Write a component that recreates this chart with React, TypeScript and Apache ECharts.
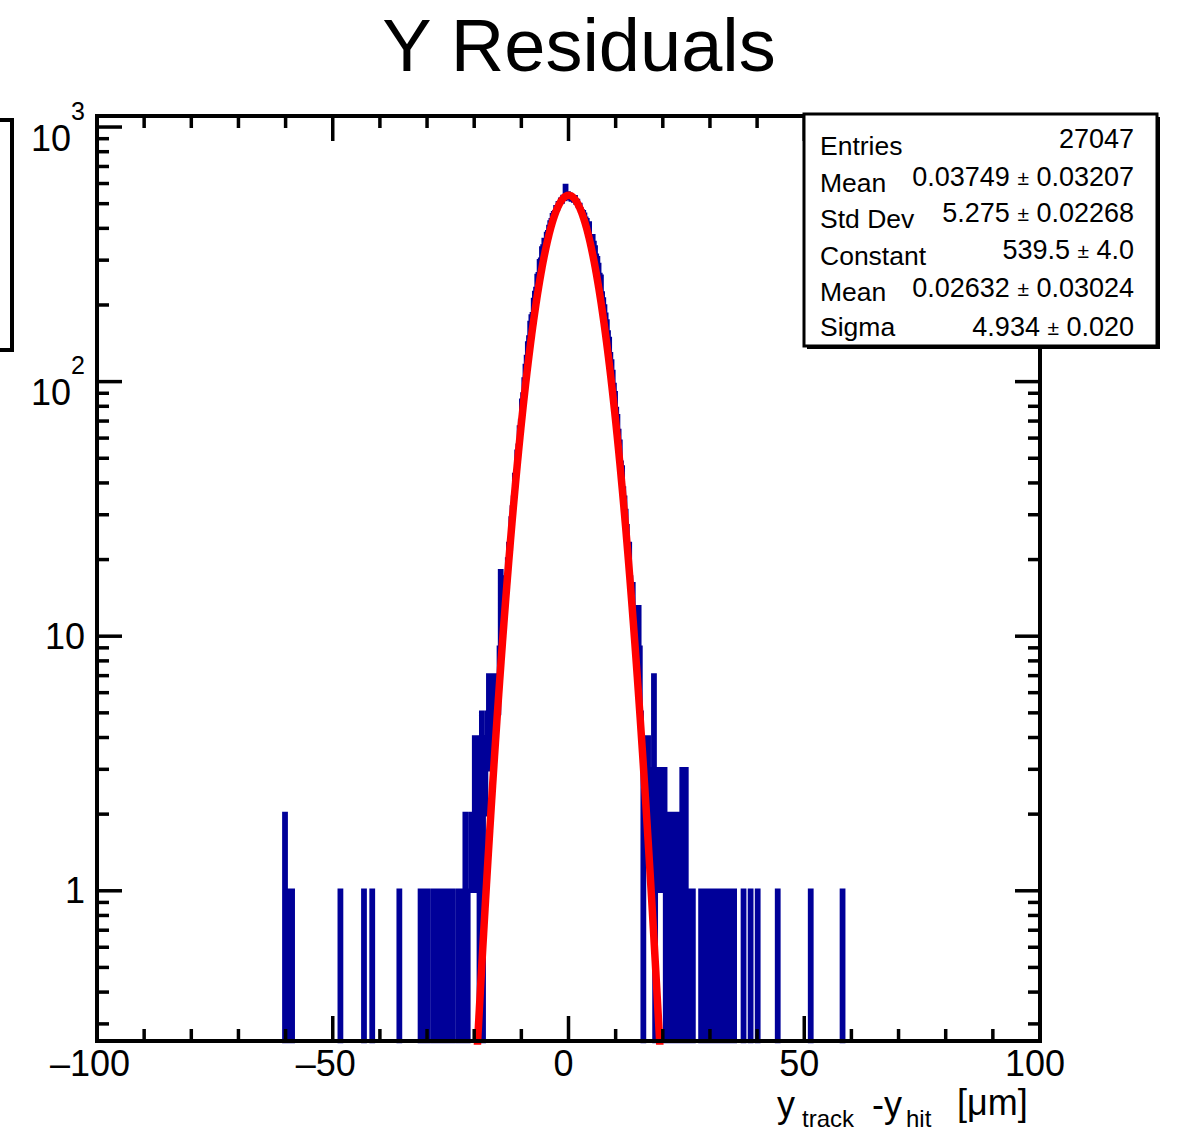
import { useEffect, useRef } from "react";
import * as echarts from "echarts";

const FONT = '"Liberation Sans", Arial, Helvetica, sans-serif';
const BLUE = "#000099";
const RED = "#ff0000";

const X_MIN = -100;
const X_MAX = 100;
const Y_MIN = 0.257;
const Y_MAX = 1105;
const BIN_WIDTH = 0.25;

// sparse outer bins (lower edge, content)
const leftTailEdges = [-60.25, -59.75, -59.25, -58.75, -48.5, -43.5, -41.75, -36.0, -31.5, -31.0, -30.5, -30.0, -28.75, -28.25, -27.75, -27.0, -26.5, -26.0, -25.5, -24.75];
const leftTailCounts = [2, 1, 1, 1, 1, 1, 1, 1, 1, 1, 1, 1, 1, 1, 1, 1, 1, 1, 1, 1];

// contiguous central bins, starting at coreStartEdge, width BIN_WIDTH
const coreStartEdge = -23.5;
const leftFlankCounts = [1, 0, 1, 0, 1, 0, 2, 0, 0, 1, 1, 2, 1, 1, 4, 2, 1, 4, 0, 3, 5, 0, 4, 2, 3, 5, 7, 3, 5, 4, 7, 4, 6, 7, 5, 9];
const leftCoreCounts = [18, 11, 14, 13, 17, 16, 20, 23, 22, 29, 32, 35, 43, 41, 53, 56, 66, 70, 84, 89, 102, 115, 125, 141, 149, 170, 180, 184, 209, 223, 231, 260, 264, 297, 301, 333, 339, 360, 362, 380, 386, 405, 422, 430, 450, 458, 462, 484, 482, 502, 503, 518, 510, 531, 528, 586, 532, 548];
const rightCoreCounts = [525, 541, 520, 528, 515, 530, 506, 512, 490, 494, 474, 466, 462, 452, 436, 430, 412, 418, 370, 358, 372, 350, 336, 312, 305, 287, 262, 258, 222, 210, 197, 183, 172, 156, 147, 128, 120, 109, 97, 90, 78, 73, 64, 58, 48, 46, 38, 35, 31, 27, 23, 23, 17, 15, 16, 11, 12, 9];
const rightFlankCounts = [8, 13, 9, 5, 4, 0, 3, 4, 2, 4, 3, 2, 3, 1, 7, 0, 3, 1, 2, 3, 1, 2, 1, 3, 0, 2, 0, 1, 2, 0, 2, 1, 0, 2, 1, 0, 2, 0, 3, 1, 0, 3, 0, 1, 0, 1, 0, 1];

const rightTailEdges = [28.0, 28.5, 29.0, 29.75, 30.25, 31.0, 31.5, 32.0, 33.0, 33.5, 34.25, 35.0, 37.0, 38.5, 40.0, 44.25, 51.25, 58.0];
const rightTailCounts = [1, 1, 1, 1, 1, 1, 1, 1, 1, 1, 1, 1, 1, 1, 1, 1, 1, 1];

// Gaussian fit parameters (from the stats box)
const FIT_CONSTANT = 539.5;
const FIT_MEAN = 0.02632;
const FIT_SIGMA = 4.934;

const xMajorTicks = [-100, -50, 0, 50, 100];
const xMinorTicks = [-90, -80, -70, -60, -40, -30, -20, -10, 10, 20, 30, 40, 60, 70, 80, 90];
const yMajorTicks = [1, 10, 100, 1000];
const yMinorTicks = [0.3, 0.4, 0.5, 0.6, 0.7, 0.8, 0.9, 2, 3, 4, 5, 6, 7, 8, 9, 20, 30, 40, 50, 60, 70, 80, 90, 200, 300, 400, 500, 600, 700, 800, 900];

const statsLabels = ["Entries", "Mean", "Std Dev", "Constant", "Mean", "Sigma"];
const statsValues = ["27047", "0.03749 ± 0.03207", "5.275 ± 0.02268", "539.5 ± 4.0", "0.02632 ± 0.03024", "4.934 ± 0.020"];

const MAJOR_LEN = 25;
const MINOR_LEN = 12;
const TICK_W = 3.5;

function buildHistogramLine() {
  const nBins = Math.round((X_MAX - X_MIN) / BIN_WIDTH);
  const counts: number[] = new Array(nBins).fill(0);
  const put = (edge: number, c: number) => {
    const i = Math.round((edge - X_MIN) / BIN_WIDTH);
    if (i >= 0 && i < nBins) counts[i] = c;
  };
  leftTailEdges.forEach((e, i) => put(e, leftTailCounts[i]));
  const core = [...leftFlankCounts, ...leftCoreCounts, ...rightCoreCounts, ...rightFlankCounts];
  core.forEach((c, i) => put(coreStartEdge + i * BIN_WIDTH, c));
  rightTailEdges.forEach((e, i) => put(e, rightTailCounts[i]));
  const pts: number[][] = [];
  counts.forEach((c, i) => {
    const e = X_MIN + i * BIN_WIDTH;
    const v = c > 0 ? c : Y_MIN * 0.2;
    pts.push([e, v], [e + BIN_WIDTH, v]);
  });
  return pts;
}

function buildFitCurve() {
  const pts: number[][] = [];
  for (let i = -220; i <= 220; i++) {
    const x = i / 10;
    const y = FIT_CONSTANT * Math.exp(-((x - FIT_MEAN) ** 2) / (2 * FIT_SIGMA * FIT_SIGMA));
    pts.push([x, y]);
  }
  return pts;
}

function richValue(s: string) {
  const parts = s.split("±");
  if (parts.length === 1) return `{v|${s}}`;
  return `{v|${parts[0]}}{pm|±}{v|${parts[1]}}`;
}

export default function App() {
  const ref = useRef<HTMLDivElement>(null);

  useEffect(() => {
    if (!ref.current) return;
    const chart = echarts.init(ref.current, undefined, { renderer: "svg" });

    const lineStyleTick = { stroke: "#000", lineWidth: TICK_W };

    const statsRowY = [146, 183, 219, 256, 292, 327];
    const statsValY = [139, 177, 213, 250, 288, 327];

    const graphic: any[] = [
      {
        type: "text",
        x: 579,
        y: 45,
        z: 100,
        style: { text: "Y Residuals", font: `74px ${FONT}`, fill: "#000", align: "center", verticalAlign: "middle", textAlign: "center", textVerticalAlign: "middle" },
      },
      {
        type: "polyline",
        z: 100,
        shape: { points: [[-4, 120], [12, 120], [12, 350], [-4, 350]] },
        style: { stroke: "#000", lineWidth: 4, fill: null },
      },
      { type: "rect", z: 100, shape: { x: 807, y: 117, width: 353, height: 232 }, style: { fill: "#000" } },
      { type: "rect", z: 101, shape: { x: 804, y: 114, width: 353, height: 232 }, style: { fill: "#fff", stroke: "#000", lineWidth: 3 } },
    ];
    statsLabels.forEach((lab, i) => {
      graphic.push({
        type: "text",
        x: 820,
        y: statsRowY[i],
        z: 102,
        style: { text: lab, font: `26.5px ${FONT}`, fill: "#000", align: "left", verticalAlign: "middle", textAlign: "left", textVerticalAlign: "middle" },
      });
      graphic.push({
        type: "text",
        x: 1134,
        y: statsValY[i],
        z: 102,
        style: {
          text: richValue(statsValues[i]),
          rich: {
            v: { fontSize: 27, fontFamily: FONT, fill: "#000", color: "#000" },
            pm: { fontSize: 21, fontFamily: FONT, fill: "#000", color: "#000" },
          },
          align: "right",
          verticalAlign: "middle",
          textAlign: "right",
          textVerticalAlign: "middle",
        },
      });
    });
    const axisTitle = [
      { t: "y", x: 777, y: 1104, s: 36 },
      { t: "track", x: 802, y: 1118, s: 24 },
      { t: "-y", x: 872, y: 1104, s: 36 },
      { t: "hit", x: 906, y: 1118, s: 24 },
      { t: "[μm]", x: 957, y: 1102, s: 36 },
    ];
    axisTitle.forEach((a) => {
      graphic.push({
        type: "text",
        x: a.x,
        y: a.y,
        z: 100,
        style: {
          text: a.t,
          font: `${a.s}px ${FONT}`,
          lineHeight: Math.round(a.s * 0.8),
          fill: "#000",
          align: "left",
          verticalAlign: "middle",
          textAlign: "left",
          textVerticalAlign: "middle",
        },
      });
    });

    const option: any = {
      animation: false,
      backgroundColor: "#fff",
      grid: { left: 97, right: 140, top: 116, bottom: 94, containLabel: false },
      xAxis: {
        type: "value",
        min: X_MIN,
        max: X_MAX,
        interval: 50,
        axisLine: { show: false },
        axisTick: { show: false },
        splitLine: { show: false },
        axisLabel: {
          margin: 8,
          formatter: (v: number) => (v < 0 ? `{neg|\u2013${-v}}` : `{pos|${v}}`),
          rich: {
            neg: { fontSize: 36, lineHeight: 28, fontFamily: FONT, color: "#000", padding: [0, 14, 0, 0] },
            pos: { fontSize: 36, lineHeight: 28, fontFamily: FONT, color: "#000", padding: [0, 10, 0, 0] },
          },
        },
      },
      yAxis: {
        type: "log",
        logBase: 10,
        min: Y_MIN,
        max: Y_MAX,
        axisLine: { show: false },
        axisTick: { show: false },
        splitLine: { show: false },
        axisLabel: {
          margin: 12,
          showMinLabel: false,
          showMaxLabel: false,
          formatter: (v: number) => {
            const l = Math.log10(v);
            const p = Math.round(l);
            if (Math.abs(l - p) > 1e-6) return "";
            if (p === 0) return "{n|1}";
            if (p === 1) return "{n|10}";
            return `{b|10}{s|${p}}`;
          },
          rich: {
            n: { fontSize: 36, fontFamily: FONT, color: "#000" },
            b: { fontSize: 36, fontFamily: FONT, color: "#000", padding: [22, 0, 0, 0], verticalAlign: "bottom" },
            s: { fontSize: 25, fontFamily: FONT, color: "#000", verticalAlign: "top" },
          },
        },
      },
      graphic,
      series: [
        {
          type: "line",
          data: buildHistogramLine(),
          showSymbol: false,
          symbol: "none",
          clip: true,
          z: 2,
          lineStyle: { color: BLUE, width: 4.6, join: "miter", cap: "butt" },
          silent: true,
        },
        {
          type: "line",
          data: buildFitCurve(),
          showSymbol: false,
          symbol: "none",
          clip: true,
          z: 3,
          lineStyle: { color: RED, width: 7.5 },
          silent: true,
        },
        {
          type: "custom",
          coordinateSystem: "cartesian2d",
          silent: true,
          clip: false,
          z: 20,
          data: [...xMajorTicks.map((v) => [v, Y_MIN, 1]), ...xMinorTicks.map((v) => [v, Y_MIN, 0])],
          encode: { x: 0, y: 1 },
          renderItem: (params: any, api: any) => {
            const cs = params.coordSys;
            const px = api.coord([api.value(0), Y_MIN])[0];
            const len = api.value(2) ? MAJOR_LEN : MINOR_LEN;
            const top = cs.y;
            const bottom = cs.y + cs.height;
            return {
              type: "group",
              children: [
                { type: "line", shape: { x1: px, y1: bottom, x2: px, y2: bottom - len }, style: lineStyleTick },
                { type: "line", shape: { x1: px, y1: top, x2: px, y2: top + len }, style: lineStyleTick },
              ],
            };
          },
        },
        {
          type: "custom",
          coordinateSystem: "cartesian2d",
          silent: true,
          clip: false,
          z: 20,
          data: [...yMajorTicks.map((v) => [X_MIN, v, 1]), ...yMinorTicks.map((v) => [X_MIN, v, 0])],
          encode: { x: 0, y: 1 },
          renderItem: (params: any, api: any) => {
            const cs = params.coordSys;
            const py = api.coord([X_MIN, api.value(1)])[1];
            const len = api.value(2) ? MAJOR_LEN : MINOR_LEN;
            const left = cs.x;
            const right = cs.x + cs.width;
            return {
              type: "group",
              children: [
                { type: "line", shape: { x1: left, y1: py, x2: left + len, y2: py }, style: lineStyleTick },
                { type: "line", shape: { x1: right, y1: py, x2: right - len, y2: py }, style: lineStyleTick },
              ],
            };
          },
        },
        {
          type: "custom",
          coordinateSystem: "cartesian2d",
          silent: true,
          clip: false,
          z: 21,
          data: [[0, 1]],
          renderItem: (params: any) => {
            const cs = params.coordSys;
            return {
              type: "rect",
              shape: { x: cs.x, y: cs.y, width: cs.width, height: cs.height },
              style: { fill: "none", stroke: "#000", lineWidth: 4 },
            };
          },
        },
      ],
    };

    chart.setOption(option);
    return () => chart.dispose();
  }, []);

  return (
    <div
      ref={ref}
      style={{ position: "absolute", left: 0, top: 0, width: 1180, height: 1135, background: "#fff" }}
    />
  );
}
